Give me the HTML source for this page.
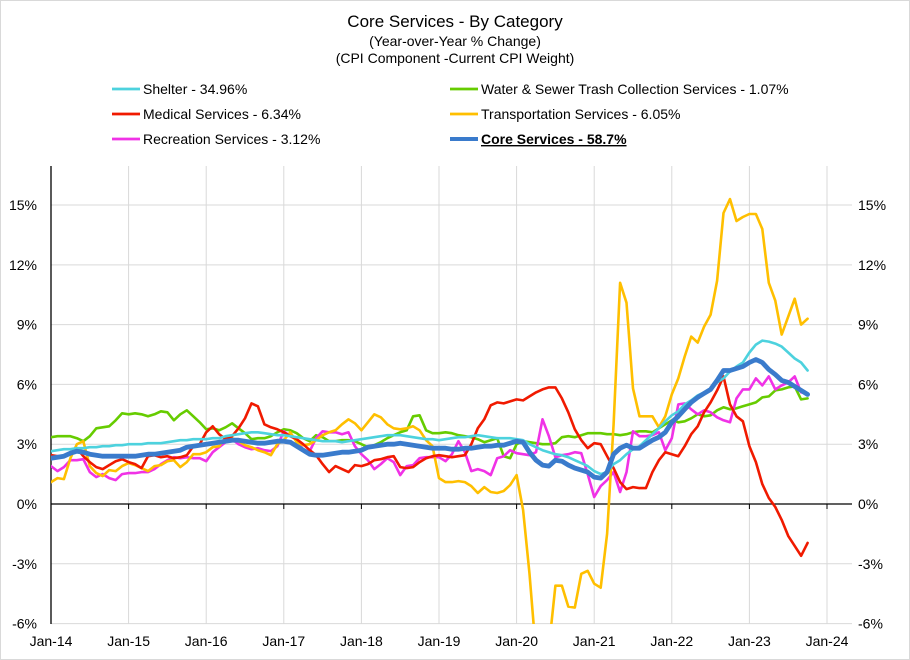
<!DOCTYPE html>
<html><head><meta charset="utf-8">
<style>
html,body{margin:0;padding:0;background:#fff;}
body{width:910px;height:660px;overflow:hidden;font-family:"Liberation Sans",sans-serif;}
#frame{position:absolute;left:0;top:0;width:908px;height:658px;border:1px solid #d9d9d9;}
</style></head>
<body>
<div id="frame"></div>
<svg id="chart" width="910" height="660" style="position:absolute;left:0;top:0"></svg>
<script>
const startYear = 2014;
const xTickLabels = ["Jan-14","Jan-15","Jan-16","Jan-17","Jan-18","Jan-19","Jan-20","Jan-21","Jan-22","Jan-23","Jan-24"];
const yTicks = [-6,-3,0,3,6,9,12,15];
const seriesNames = ["Shelter - 34.96%","Water & Sewer Trash Collection Services - 1.07%","Medical Services - 6.34%","Transportation Services - 6.05%","Recreation Services - 3.12%","Core Services - 58.7%"];
const shelter = [2.65,2.7,2.75,2.75,2.8,2.8,2.85,2.85,2.9,2.9,2.95,2.95,
3.0,3.0,3.0,3.05,3.05,3.05,3.1,3.15,3.2,3.2,3.25,3.25,
3.25,3.3,3.3,3.4,3.45,3.5,3.55,3.6,3.6,3.55,3.5,3.45,
3.45,3.4,3.35,3.3,3.25,3.2,3.15,3.15,3.15,3.1,3.15,3.2,
3.25,3.3,3.35,3.4,3.45,3.45,3.45,3.4,3.35,3.3,3.25,3.25,
3.2,3.25,3.3,3.35,3.35,3.4,3.45,3.4,3.35,3.3,3.3,3.3,
3.25,3.2,3.0,2.85,2.7,2.6,2.5,2.45,2.35,2.2,2.05,1.9,
1.65,1.5,1.6,2.0,2.2,2.5,2.75,2.9,3.2,3.5,3.8,4.15,
4.45,4.65,5.0,5.2,5.45,5.6,5.8,6.1,6.3,6.65,6.9,7.1,
7.6,8.0,8.2,8.15,8.05,7.9,7.6,7.3,7.1,6.7];
const water = [3.35,3.4,3.4,3.4,3.3,3.15,3.4,3.8,3.85,3.9,4.2,4.55,
4.5,4.55,4.5,4.4,4.5,4.65,4.6,4.2,4.5,4.7,4.4,4.1,
3.75,3.8,3.7,3.85,4.05,3.8,3.55,3.25,3.3,3.3,3.4,3.6,
3.75,3.7,3.55,3.3,3.15,3.45,3.35,3.15,3.15,3.2,3.2,3.15,
3.0,2.85,2.95,3.1,3.3,3.45,3.6,3.7,4.4,4.45,3.7,3.55,
3.55,3.6,3.55,3.45,3.4,3.35,3.25,3.1,3.2,3.3,2.4,2.3,
3.0,3.15,3.1,3.05,3.0,3.0,3.05,3.35,3.4,3.35,3.45,3.55,
3.55,3.55,3.5,3.5,3.45,3.5,3.6,3.65,3.65,3.6,3.8,4.0,
4.2,4.1,4.15,4.3,4.5,4.4,4.45,4.7,4.85,4.75,4.8,4.9,
5.0,5.1,5.35,5.4,5.7,5.75,5.85,5.9,5.25,5.3];
const medical = [2.45,2.4,2.4,2.55,2.8,2.4,2.1,1.85,1.75,1.95,2.15,2.25,
2.1,2.0,1.8,2.4,2.45,2.35,2.4,2.3,2.35,2.45,2.9,3.0,
3.6,3.9,3.5,3.25,3.4,3.8,4.3,5.05,4.9,4.0,3.85,3.75,
3.6,3.4,3.25,3.0,2.7,2.45,2.0,1.6,1.9,1.75,1.6,1.95,
1.9,2.0,2.2,2.25,2.35,2.4,1.85,1.8,1.85,2.1,2.3,2.4,
2.45,2.4,2.35,2.4,2.45,3.0,3.8,4.25,4.95,5.1,5.05,5.15,
5.25,5.2,5.4,5.6,5.75,5.85,5.85,5.3,4.6,3.75,3.2,2.8,
3.05,3.0,2.4,1.8,1.1,0.75,0.85,0.8,0.8,1.6,2.2,2.6,
2.5,2.4,2.9,3.5,3.9,4.6,5.1,5.7,6.4,5.0,4.4,4.15,
2.9,2.1,1.0,0.3,-0.15,-0.8,-1.6,-2.1,-2.6,-1.95];
const transportation = [1.1,1.3,1.25,2.3,3.0,3.15,1.9,1.55,1.4,1.7,1.65,1.9,
2.05,1.95,1.8,1.65,1.9,1.95,2.15,2.2,1.85,2.1,2.5,2.5,
2.6,2.85,2.9,3.35,3.3,3.15,2.95,2.85,2.7,2.6,2.45,3.0,
3.2,3.6,3.1,2.95,3.0,3.2,3.45,3.6,3.7,4.0,4.25,4.05,
3.7,4.1,4.5,4.35,4.0,3.8,3.75,3.8,3.9,3.7,3.2,2.9,
1.3,1.1,1.1,1.15,1.1,0.9,0.55,0.85,0.6,0.55,0.65,0.95,
1.45,-0.3,-3.5,-7.5,-7.8,-7.2,-4.1,-4.1,-5.15,-5.2,-3.5,-3.35,
-4.0,-4.2,-1.5,4.0,11.1,10.1,5.8,4.4,4.4,4.4,3.85,4.4,
5.5,6.3,7.4,8.4,8.1,8.9,9.5,11.2,14.6,15.3,14.2,14.4,
14.55,14.55,13.8,11.1,10.2,8.5,9.4,10.3,9.0,9.3];
const recreation = [1.9,1.65,1.85,2.2,2.2,2.25,1.6,1.35,1.5,1.3,1.2,1.5,
1.55,1.55,1.6,1.6,1.75,2.0,2.2,2.35,2.3,2.35,2.3,2.3,
2.15,2.6,2.85,3.1,3.25,3.0,2.85,2.75,2.8,2.7,2.65,2.9,
3.65,3.4,3.25,2.7,2.65,3.3,3.65,3.6,3.6,3.5,3.6,2.9,
2.5,2.2,1.75,2.0,2.3,2.1,1.45,1.9,1.95,2.3,2.35,2.35,
2.35,2.15,2.5,3.15,2.6,1.65,1.75,1.65,1.45,2.3,2.4,2.7,
2.55,2.5,2.45,2.6,4.25,3.4,2.35,2.45,2.5,2.6,2.55,1.5,
0.35,0.9,1.2,1.6,0.6,1.6,3.65,3.4,3.4,3.45,3.6,2.7,
3.3,5.0,5.05,4.75,4.5,4.7,4.6,4.35,4.2,4.1,5.3,5.75,
5.75,6.3,5.95,6.4,5.75,5.95,6.1,6.4,5.6,5.55];
const core = [2.3,2.35,2.4,2.55,2.65,2.6,2.5,2.45,2.4,2.4,2.4,2.4,
2.4,2.4,2.45,2.5,2.5,2.55,2.6,2.65,2.7,2.85,2.9,2.95,
3.0,3.05,3.1,3.15,3.2,3.2,3.15,3.1,3.05,3.05,3.1,3.15,
3.15,3.1,2.9,2.7,2.5,2.45,2.45,2.5,2.55,2.6,2.6,2.65,
2.7,2.85,2.9,2.95,3.0,3.0,3.05,3.0,2.95,2.9,2.85,2.8,
2.8,2.8,2.75,2.75,2.8,2.8,2.85,2.9,2.9,2.95,2.95,3.05,
3.15,3.1,2.6,2.2,1.95,1.9,2.2,2.15,1.95,1.8,1.7,1.6,
1.35,1.3,1.6,2.5,2.8,2.95,2.8,2.8,3.0,3.2,3.35,3.6,
4.1,4.4,4.75,5.1,5.35,5.55,5.75,6.2,6.7,6.7,6.8,6.9,
7.1,7.25,7.1,6.75,6.5,6.2,6.1,5.9,5.7,5.5];

const NS = "http://www.w3.org/2000/svg";
const svg = document.getElementById('chart');
const L = 51, R = 852, T = 166, B = 624;
const monthW = 77.6/12;
function xScale(i){ return L + i*monthW; }
function yScale(v){ return 504 - v*19.93; }
function mk(tag, attrs, parent){
  const e = document.createElementNS(NS, tag);
  for (const k in attrs) e.setAttribute(k, attrs[k]);
  (parent||svg).appendChild(e);
  return e;
}
const defs = mk('defs', {});
const cp = mk('clipPath', {id:'plotclip'}, defs);
mk('rect', {x:L, y:T, width:R-L, height:B-T}, cp);

const title = mk('text', {x:455, y:27, 'text-anchor':'middle', 'font-size':'17', fill:'#000'});
title.textContent = 'Core Services - By Category';


const sub1 = mk('text', {x:455, y:46, 'text-anchor':'middle', 'font-size':'14', fill:'#000'});
sub1.textContent = '(Year-over-Year % Change)';


const sub2 = mk('text', {x:455, y:63, 'text-anchor':'middle', 'font-size':'14', fill:'#000'});
sub2.textContent = '(CPI Component -Current CPI Weight)';



yTicks.forEach(v => {
  const y = yScale(v);
  if (v !== 0) {
    const g = mk('line', {x1:L, x2:R, y1:y, y2:y, stroke:'#d9d9d9', 'stroke-width':1});
    
    
  }
  const lab = (v<0?'-':'') + Math.abs(v) + '%';
  const tl = mk('text', {x:37, y:y+5, 'text-anchor':'end', 'font-size':'14', fill:'#000'});
  tl.textContent = lab;
  
  
  const tr = mk('text', {x:858, y:y+5, 'text-anchor':'start', 'font-size':'14', fill:'#000'});
  tr.textContent = lab;
  
  
});
xTickLabels.forEach((lab, k) => {
  const x = xScale(k*12);
  if (k > 0) {
    const g = mk('line', {x1:x, x2:x, y1:T, y2:B, stroke:'#d9d9d9', 'stroke-width':1});
    
    
  }
  const tk = mk('line', {x1:x, x2:x, y1:504, y2:509, stroke:'#000', 'stroke-width':1});
  
  
  const t = mk('text', {x:x, y:646, 'text-anchor':'middle', 'font-size':'14', fill:'#000'});
  t.textContent = lab;
  
  
});
const zl = mk('line', {x1:L, x2:R, y1:504, y2:504, stroke:'#000', 'stroke-width':1.3});


const ya = mk('line', {x1:L, x2:L, y1:T, y2:B, stroke:'#000', 'stroke-width':1.3});



const seriesData = [shelter, water, medical, transportation, recreation, core];
const colors = ['#4dd2de','#66cc00','#f01a00','#ffbf00','#f032e6','#3a7bcc'];
const widths = [2.6,2.6,2.6,2.6,2.6,4.8];
const drawOrder = [1,4,3,2,0,5];
const seriesKeys = ['shelter','water-sewer','medical','transportation','recreation','core-services'];
drawOrder.forEach(s => {
  const pts = seriesData[s].map((v,i) => xScale(i).toFixed(1)+','+yScale(v).toFixed(1)).join(' ');
  const pl = mk('polyline', {points:pts, fill:'none', stroke:colors[s], 'stroke-width':widths[s], 'stroke-linejoin':'round', 'stroke-linecap':'round', 'clip-path':'url(#plotclip)'});
  
  
});

const legPos = [[112,89],[450,89],[112,114],[450,114],[112,139],[450,139]];
const legendOrder = [0,1,2,3,4,5];
legendOrder.forEach((s, k) => {
  const [lx, ly] = legPos[k];
  const g = mk('g', {});
  
  
  mk('line', {x1:lx, x2:lx+28, y1:ly, y2:ly, stroke:colors[s], 'stroke-width': s===5?4:2.8}, g);
  const t = mk('text', {x:lx+31, y:ly+5, 'font-size':'14', fill:'#000'}, g);
  t.textContent = seriesNames[s];
  if (s === 5) { t.setAttribute('font-weight','bold'); t.setAttribute('text-decoration','underline'); }
});
</script>
</body></html>
